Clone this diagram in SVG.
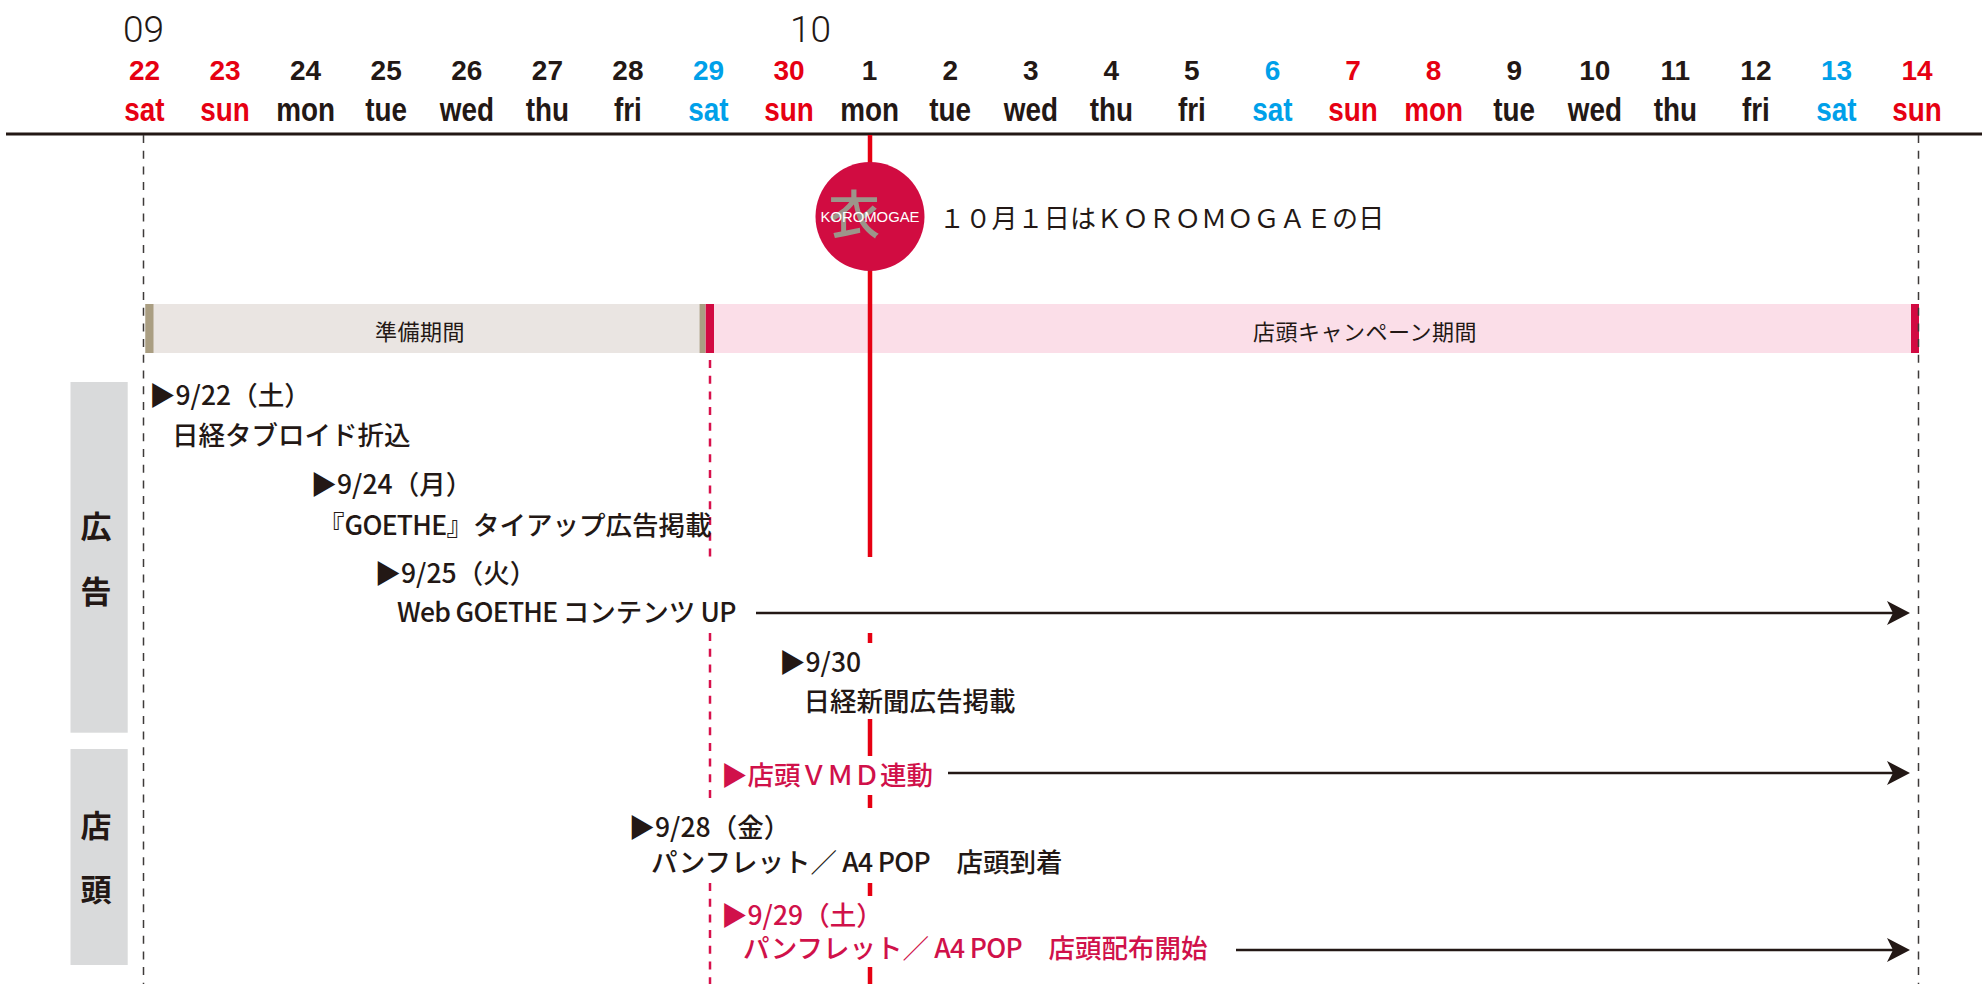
<svg xmlns="http://www.w3.org/2000/svg" xmlns:xlink="http://www.w3.org/1999/xlink" width="1982" height="984" viewBox="0 0 1982 984">
<defs>
<style>
.num{font-family:"Liberation Sans",Arial,sans-serif;font-weight:700;font-size:28px;text-anchor:middle}
.dn{font-family:"Liberation Sans",Arial,sans-serif;font-weight:700;font-size:34px;text-anchor:middle}
.mon{font-family:Roboto,"Liberation Sans",sans-serif;font-weight:300;font-size:37px;text-anchor:middle;fill:#231815}
.k{fill:#231815}
.r{fill:#e60012}
.b{fill:#00a0e9}
.cj{font-family:"Noto Sans CJK JP",sans-serif;font-size:26.5px;font-weight:500;fill:#231815}
.lt{letter-spacing:-0.7px}
.red{fill:#d0114a}
.bar{font-family:"Noto Sans CJK JP",sans-serif;font-size:22px;fill:#231815;text-anchor:middle;letter-spacing:0.5px}
.side{font-family:"Noto Sans CJK JP",sans-serif;font-size:31px;font-weight:700;fill:#231815;text-anchor:middle}
.dash{stroke:#3e3a39;stroke-width:1.5;stroke-dasharray:8 7.7;fill:none}
.rdash{stroke:#d7114c;stroke-width:2.5;stroke-dasharray:8 7.7;fill:none}
.rline{stroke:#e60012;stroke-width:4.5;fill:none}
.arr{stroke:#231815;stroke-width:2.5;fill:none}
</style>
<path id="ahead" d="M0,0 L-23,-12 L-17,0 L-23,12 Z" fill="#231815"/>
</defs>
<rect width="1982" height="984" fill="#ffffff"/>

<g id="header">
<text class="mon" x="143.5" y="42">09</text>
<text class="mon" x="810.5" y="42">10</text>
<text class="num r" x="144.5" y="80">22</text>
<text class="num r" x="225.1" y="80">23</text>
<text class="num k" x="305.6" y="80">24</text>
<text class="num k" x="386.2" y="80">25</text>
<text class="num k" x="466.8" y="80">26</text>
<text class="num k" x="547.4" y="80">27</text>
<text class="num k" x="627.9" y="80">28</text>
<text class="num b" x="708.5" y="80">29</text>
<text class="num r" x="789.1" y="80">30</text>
<text class="num k" x="869.6" y="80">1</text>
<text class="num k" x="950.2" y="80">2</text>
<text class="num k" x="1030.8" y="80">3</text>
<text class="num k" x="1111.3" y="80">4</text>
<text class="num k" x="1191.9" y="80">5</text>
<text class="num b" x="1272.5" y="80">6</text>
<text class="num r" x="1353.1" y="80">7</text>
<text class="num r" x="1433.6" y="80">8</text>
<text class="num k" x="1514.2" y="80">9</text>
<text class="num k" x="1594.8" y="80">10</text>
<text class="num k" x="1675.3" y="80">11</text>
<text class="num k" x="1755.9" y="80">12</text>
<text class="num b" x="1836.5" y="80">13</text>
<text class="num r" x="1917" y="80">14</text>
<text class="dn r" transform="translate(144.5 121) scale(0.82 1)">sat</text>
<text class="dn r" transform="translate(225.1 121) scale(0.82 1)">sun</text>
<text class="dn k" transform="translate(305.6 121) scale(0.82 1)">mon</text>
<text class="dn k" transform="translate(386.2 121) scale(0.82 1)">tue</text>
<text class="dn k" transform="translate(466.8 121) scale(0.82 1)">wed</text>
<text class="dn k" transform="translate(547.4 121) scale(0.82 1)">thu</text>
<text class="dn k" transform="translate(627.9 121) scale(0.82 1)">fri</text>
<text class="dn b" transform="translate(708.5 121) scale(0.82 1)">sat</text>
<text class="dn r" transform="translate(789.1 121) scale(0.82 1)">sun</text>
<text class="dn k" transform="translate(869.6 121) scale(0.82 1)">mon</text>
<text class="dn k" transform="translate(950.2 121) scale(0.82 1)">tue</text>
<text class="dn k" transform="translate(1030.8 121) scale(0.82 1)">wed</text>
<text class="dn k" transform="translate(1111.3 121) scale(0.82 1)">thu</text>
<text class="dn k" transform="translate(1191.9 121) scale(0.82 1)">fri</text>
<text class="dn b" transform="translate(1272.5 121) scale(0.82 1)">sat</text>
<text class="dn r" transform="translate(1353.1 121) scale(0.82 1)">sun</text>
<text class="dn r" transform="translate(1433.6 121) scale(0.82 1)">mon</text>
<text class="dn k" transform="translate(1514.2 121) scale(0.82 1)">tue</text>
<text class="dn k" transform="translate(1594.8 121) scale(0.82 1)">wed</text>
<text class="dn k" transform="translate(1675.3 121) scale(0.82 1)">thu</text>
<text class="dn k" transform="translate(1755.9 121) scale(0.82 1)">fri</text>
<text class="dn b" transform="translate(1836.5 121) scale(0.82 1)">sat</text>
<text class="dn r" transform="translate(1917 121) scale(0.82 1)">sun</text>
<line x1="6" y1="134" x2="1982" y2="134" stroke="#231815" stroke-width="2.8"/>
</g>

<g id="bar-prep">
<rect x="145.3" y="304" width="560.4" height="49" fill="#eae5e2"/>
<rect x="145.3" y="304" width="8.2" height="49" fill="#aa9e82"/>
<rect x="699.6" y="304" width="6.1" height="49" fill="#aa9e82"/>
<text class="bar" x="420" y="340">準備期間</text>
</g>
<g id="bar-campaign">
<rect x="705.7" y="304" width="1213.3" height="49" fill="#fbdee8"/>
<rect x="705.7" y="304" width="8.3" height="49" fill="#d20a42"/>
<rect x="1911" y="304" width="8" height="49" fill="#d20a42"/>
<text class="bar" x="1365" y="340">店頭キャンペーン期間</text>
</g>

<g id="side-ad">
<rect x="70.5" y="382" width="57.2" height="350.7" fill="#d9dadb"/>
<text class="side" x="96" y="538">広</text>
<text class="side" x="96" y="603">告</text>
</g>
<g id="side-store">
<rect x="70.5" y="749" width="57.2" height="216" fill="#d9dadb"/>
<text class="side" x="96" y="837">店</text>
<text class="side" x="96" y="901">頭</text>
</g>

<g id="connectors">
<line class="dash" x1="143.5" y1="135" x2="143.5" y2="984"/>
<line class="dash" x1="1918.5" y1="135" x2="1918.5" y2="984"/>
<line class="rdash" x1="710" y1="360" x2="710" y2="557"/>
<line class="rdash" x1="710" y1="633" x2="710" y2="805"/>
<line class="rdash" x1="710" y1="883" x2="710" y2="984"/>
<line class="rline" x1="870" y1="135" x2="870" y2="557"/>
<line class="rline" x1="870" y1="633" x2="870" y2="643"/>
<line class="rline" x1="870" y1="719" x2="870" y2="756"/>
<line class="rline" x1="870" y1="795" x2="870" y2="808"/>
<line class="rline" x1="870" y1="883" x2="870" y2="896"/>
<line class="rline" x1="870" y1="967" x2="870" y2="984"/>
<line class="arr" x1="756" y1="613" x2="1895" y2="613"/>
<use xlink:href="#ahead" transform="translate(1910 613)"/>
<line class="arr" x1="948" y1="773" x2="1895" y2="773"/>
<use xlink:href="#ahead" transform="translate(1910 773)"/>
<line class="arr" x1="1236" y1="950" x2="1895" y2="950"/>
<use xlink:href="#ahead" transform="translate(1910 950)"/>
</g>

<g id="koromogae">
<circle cx="870" cy="216.5" r="54.5" fill="#d10c41"/>
<text x="854" y="234" font-family="Noto Sans CJK JP,sans-serif" font-size="52" font-weight="500" fill="#9c958a" text-anchor="middle">衣</text>
<text x="870" y="221.7" font-family="Liberation Sans,Arial,sans-serif" font-size="15" fill="#ffffff" text-anchor="middle" textLength="99" lengthAdjust="spacingAndGlyphs">KOROMOGAE</text>
<text x="939" y="228" font-family="Noto Sans CJK JP,sans-serif" font-size="26" fill="#231815" letter-spacing="0.2">１０月１日はＫＯＲＯＭＯＧＡＥの日</text>
</g>

<g id="ev-0922">
<text class="cj" x="149" y="405">▶9/22（土）</text>
<text class="cj" x="172" y="445">日経タブロイド折込</text>
</g>
<g id="ev-0924">
<text class="cj" x="310.5" y="494">▶9/24（月）</text>
<text class="cj" x="318" y="535">『<tspan class="lt">GOETHE</tspan>』タイアップ広告掲載</text>
</g>
<g id="ev-0925">
<text class="cj" x="374.5" y="583">▶9/25（火）</text>
<text class="cj" x="397" y="622"><tspan class="lt">Web GOETHE </tspan>コンテンツ<tspan class="lt"> UP</tspan></text>
</g>
<g id="ev-0930">
<text class="cj" x="779" y="672">▶9/30</text>
<text class="cj" x="803.5" y="711">日経新聞広告掲載</text>
</g>
<g id="ev-vmd">
<text class="cj red" x="721" y="785">▶店頭ＶＭＤ連動</text>
</g>
<g id="ev-0928">
<text class="cj" x="628.5" y="837">▶9/28（金）</text>
<text class="cj" x="651" y="872">パンフレット／<tspan class="lt"> A4 POP</tspan>　店頭到着</text>
</g>
<g id="ev-0929">
<text class="cj red" x="721" y="925">▶9/29（土）</text>
<text class="cj red" x="743" y="958">パンフレット／<tspan class="lt"> A4 POP</tspan>　店頭配布開始</text>
</g>
</svg>
